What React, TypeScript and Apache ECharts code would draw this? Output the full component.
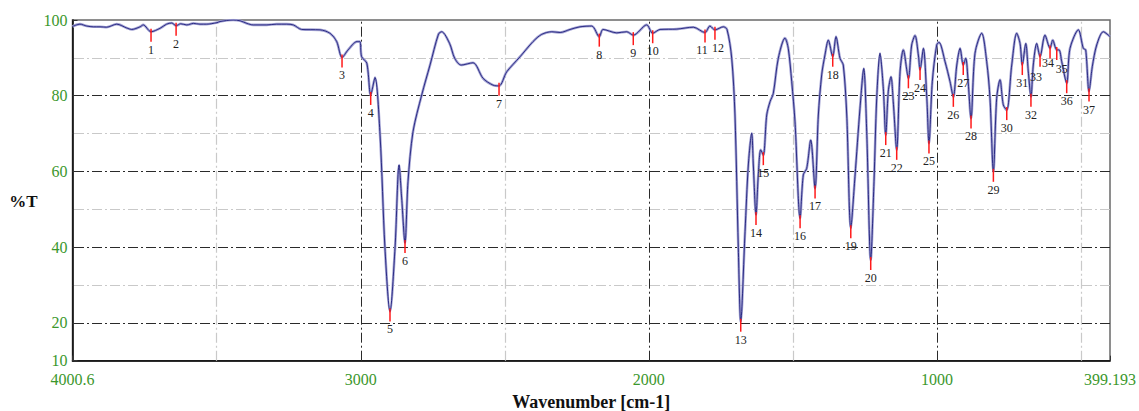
import React, { useEffect, useRef } from "react";
import * as echarts from "echarts";

// Spectrum trace (wavenumber in cm-1, %T)
const wavenumbers = [
  4000.6, 3974.6, 3951, 3928, 3905, 3882, 3847, 3812.5, 3795, 3766, 3755, 3728, 3697, 3674, 3656, 3641, 3625, 3604, 3581, 3558,
  3535, 3499, 3488.6, 3443, 3419, 3395, 3373, 3326, 3292, 3257, 3234, 3205, 3141.5, 3107, 3083.5, 3065, 3044, 3013, 3003, 2997,
  2979, 2965.5, 2950.6, 2933, 2916, 2898.5, 2881, 2867, 2858, 2846.4, 2836, 2818.6, 2788.4, 2759.6, 2730, 2719, 2691.6, 2674, 2651.6, 2610.3,
  2575.6, 2541, 2520, 2493.4, 2447, 2402, 2372, 2337, 2308, 2273.6, 2239, 2198.3, 2172, 2159, 2111.5, 2076.8, 2054, 2007.4, 1986.6, 1961,
  1903, 1845.6, 1805, 1788, 1770.5, 1741.5, 1728.6, 1712.3, 1701, 1689.4, 1681, 1666, 1654.6, 1642.9, 1637.3, 1628, 1620, 1611.6, 1602.6, 1590.8,
  1579.4, 1568, 1550.6, 1527.5, 1516, 1504, 1492.6, 1475, 1463.8, 1452, 1438, 1423, 1411.6, 1400, 1388.5, 1377, 1361.7, 1350.3, 1336.4, 1325,
  1313, 1299, 1284.5, 1267, 1254, 1243.7, 1229.8, 1218.4, 1209, 1197.6, 1186, 1177.7, 1168.7, 1159.4, 1151.5, 1139.6, 1128, 1116.7, 1099, 1087.6,
  1076, 1064, 1058.6, 1047, 1035, 1027.6, 1016, 1000.8, 992.6, 971.8, 954.4, 943, 931, 919.6, 908.6, 900, 891.6, 881.6, 867.8, 844.6,
  827.2, 815.7, 804, 792.6, 781, 769.6, 757.6, 740.3, 723, 711.4, 703.6, 691.7, 682.7, 673.6, 665.5, 653.7, 642, 625, 607.3, 598,
  584, 576, 566.8, 549.5, 538, 509, 491.8, 483.5, 472, 460.6, 445.3, 422.4, 399.193,
];
const transmittance = [
  98.3, 98.9, 98.4, 98.2, 98.2, 98.1, 98.9, 97.9, 97.5, 98.2, 98.7, 96.9, 97.8, 98.9, 99.2, 98.5, 99.0, 98.7, 99.1, 98.9,
  98.9, 99.3, 99.6, 100, 99.8, 99.1, 98.7, 98.7, 98.9, 98.9, 98.7, 97.5, 97.4, 96.5, 94.3, 90.1, 92.1, 94.3, 94.3, 90.3,
  88.6, 80.2, 84.8, 69.6, 39.8, 23, 39.8, 61.7, 53, 41.1, 57.3, 70.5, 80.2, 88.1, 96.3, 96.9, 93.8, 89.9, 88.1, 88.7,
  84.6, 82.8, 82.6, 86.3, 90.3, 94.3, 96.2, 96.9, 96.7, 97.5, 98.2, 98.4, 95.6, 97.5, 96.6, 96.9, 96.0, 98.7, 96.5, 97.5,
  97.6, 98.1, 96.7, 98.4, 97.4, 98.2, 97.5, 89.9, 74.9, 39.8, 20.3, 44.1, 61.7, 70.1, 61.7, 48.5, 59.1, 65.7, 64.3, 74.9,
  78.4, 80.6, 89.9, 95.2, 92.5, 83.7, 73.1, 47.6, 59.1, 60.8, 68.3, 55.5, 74.9, 85.5, 90.8, 94.7, 90.3, 95.6, 89.9, 88.1,
  74.9, 45, 58.6, 76.7, 87.2, 70.5, 36.6, 57.3, 79.3, 91.2, 81.9, 69.6, 81.2, 85, 78.4, 65.7, 86.3, 92.1, 84.6, 93.4,
  95.9, 90.5, 86.8, 92.5, 79.3, 67.4, 83.7, 93.4, 94.1, 89, 83.7, 79.7, 88.1, 92.5, 88.1, 89.9, 83.7, 74, 91.2, 96.5,
  89, 79.3, 59.9, 79.3, 84.2, 77.6, 76.2, 88.1, 96.5, 93.8, 88.1, 93.8, 86.3, 79.7, 88.1, 93.8, 90.3, 96, 92.5, 94.7,
  92.1, 92.1, 89, 83.3, 92.5, 97.4, 92.5, 92.1, 81.1, 87.7, 93.4, 96.9, 95.6,
];

// Picked peaks
const peakNumbers = [
  1, 2, 3, 4, 5, 6, 7, 8, 9, 10, 11, 12, 13, 14, 15, 16, 17, 18, 19,
  20, 21, 22, 23, 24, 25, 26, 27, 28, 29, 30, 31, 32, 33, 34, 35, 36, 37,
];
const peakWavenumbers = [
  3728, 3641, 3065, 2965.5, 2898.5, 2846.4, 2520, 2172, 2054, 1986.6, 1805, 1770.5, 1681, 1628, 1602.6, 1475, 1423, 1361.7, 1299,
  1229.8, 1177.7, 1139.6, 1099, 1058.6, 1027.6, 943, 908.6, 881.6, 804, 757.6, 703.6, 673.6, 642, 607.3, 584, 549.5, 472,
];
const peakTransmittance = [
  96.9, 98.5, 90.1, 80.2, 23, 41.1, 82.6, 95.6, 96.0, 96.5, 96.7, 97.4, 20.3, 48.5, 64.3, 47.6, 55.5, 90.3, 45,
  36.6, 69.6, 65.7, 84.6, 86.8, 67.4, 79.7, 88.1, 74, 59.9, 76.2, 88.1, 79.7, 90.3, 92.5, 92.1, 83.3, 81.1,
];

const xLabelValues = [4000.6, 3000, 2000, 1000, 399.193];
const yLabelValues = [10, 20, 40, 60, 80, 100];
const majorV = [3000, 2000, 1000];
const minorV = [3500, 2500, 1500, 500];
const majorH = [20, 40, 60, 80];
const minorH = [30, 50, 70, 90];

// small label nudges where peak labels crowd each other (px)
const labelNudge: Record<number, [number, number]> = {
  11: [-3, 0],
  12: [3, 0],
  33: [-4, 2],
  34: [-2, -3],
  35: [5, 1],
};

export default function App() {
  const ref = useRef<HTMLDivElement>(null);
  useEffect(() => {
    const chart = echarts.init(ref.current!, null, { renderer: "svg" });
    const green = "#3b972c";
    const serif = "'Liberation Serif', 'DejaVu Serif', serif";
    const spectrum = wavenumbers.map((w, i) => [w, transmittance[i]]);
    const peaks = peakNumbers.map((n, i) => [peakWavenumbers[i], peakTransmittance[i], n]);
    const dash = [10, 3, 2, 3];
    const majorStyle = { color: "#2a2a2a", width: 1, type: dash };
    const minorStyle = { color: "#c9c9c9", width: 1.2, type: dash };
    const gridLines = [
      ...majorV.map((v) => ({ xAxis: v, lineStyle: majorStyle })),
      ...minorV.map((v) => ({ xAxis: v, lineStyle: minorStyle })),
      ...majorH.map((v) => ({ yAxis: v, lineStyle: majorStyle })),
      ...minorH.map((v) => ({ yAxis: v, lineStyle: minorStyle })),
    ];
    chart.setOption({
      animation: false,
      backgroundColor: "#ffffff",
      grid: {
        left: 72.5,
        right: 29,
        top: 20,
        bottom: 50.3,
        show: true,
        borderColor: "#6a6a6a",
        borderWidth: 1.5,
        containLabel: false,
        outerBoundsMode: "none",
      },
      xAxis: {
        type: "value",
        min: 399.193,
        max: 4000.6,
        inverse: true,
        splitNumber: 7,
        name: "Wavenumber [cm-1]",
        nameLocation: "middle",
        nameGap: 31,
        nameTextStyle: { fontFamily: serif, fontWeight: "bold", fontSize: 18, color: "#111", verticalAlign: "top" },
        axisLine: { show: true, onZero: false, lineStyle: { color: "#000", width: 1.5 } },
        axisTick: { show: true, inside: true, length: 5, lineStyle: { color: "#333" } },
        axisLabel: {
          customValues: xLabelValues,
          formatter: (v: number) => String(v),
          color: green,
          fontFamily: serif,
          fontSize: 16,
          margin: 11,
        },
        splitLine: { show: false },
      },
      yAxis: {
        type: "value",
        min: 10,
        max: 100,
        interval: 10,
        name: "%T",
        nameLocation: "middle",
        nameRotate: 0,
        nameGap: 32,
        nameTextStyle: {
          fontFamily: serif,
          fontWeight: "bold",
          fontSize: 17,
          color: "#111",
          verticalAlign: "top",
          padding: [3, 0, 0, 0],
        },
        axisLine: { show: true, lineStyle: { color: "#000", width: 1.5 } },
        axisTick: { show: true, inside: true, length: 5, lineStyle: { color: "#333" } },
        axisLabel: {
          customValues: yLabelValues,
          color: green,
          fontFamily: serif,
          fontSize: 16,
          margin: 5,
        },
        splitLine: { show: false },
      },
      series: [
        {
          type: "line",
          data: spectrum,
          showSymbol: false,
          symbol: "none",
          lineStyle: { opacity: 0 },
          silent: true,
          z: 1,
          markLine: {
            z: 1,
            silent: true,
            symbol: ["none", "none"],
            label: { show: false },
            data: gridLines,
          },
        },
        {
          type: "line",
          data: spectrum,
          symbol: "none",
          smooth: 0.3,
          lineStyle: { color: "#a4a4d4", width: 2.6 },
          silent: true,
          z: 3,
        },
        {
          type: "line",
          data: spectrum,
          symbol: "none",
          smooth: 0.3,
          lineStyle: { color: "#1e1e7a", width: 0.9 },
          silent: true,
          z: 4,
        },
        {
          type: "custom",
          data: peaks,
          z: 10,
          silent: true,
          renderItem: (params: any, api: any) => {
            const p = api.coord([api.value(0), api.value(1)]);
            const num = api.value(2);
            const nudge = labelNudge[num] || [0, 0];
            return {
              type: "group",
              children: [
                {
                  type: "line",
                  shape: { x1: p[0], y1: p[1] - 3, x2: p[0], y2: p[1] + 10 },
                  style: { stroke: "#ff1a1a", lineWidth: 1.5 },
                },
                {
                  type: "text",
                  x: p[0] + nudge[0],
                  y: p[1] + 18 + nudge[1],
                  style: {
                    text: String(num),
                    fill: "#222",
                    fontFamily: serif,
                    fontSize: 12,
                    align: "center",
                    verticalAlign: "middle",
                  },
                },
              ],
            };
          },
        },
      ],
    });
    return () => chart.dispose();
  }, []);
  return (
    <div
      ref={ref}
      style={{ position: "absolute", left: 0, top: 0, width: 1139, height: 411, background: "#fff" }}
    />
  );
}
